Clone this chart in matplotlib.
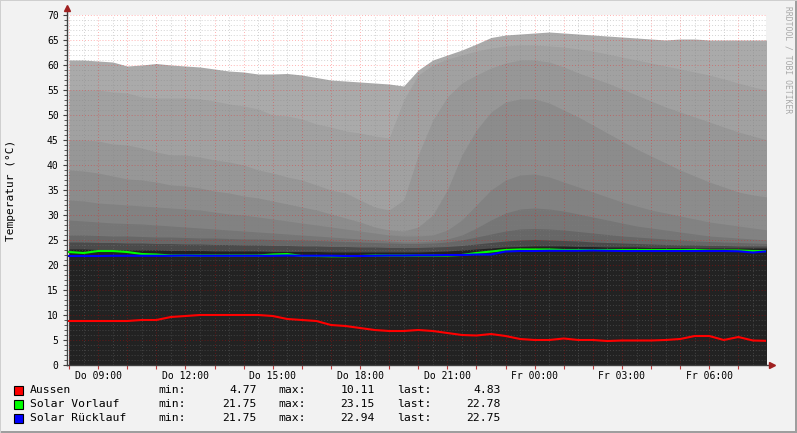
import numpy as np
import matplotlib.pyplot as plt
from matplotlib.patches import Rectangle
from matplotlib.ticker import MultipleLocator, FixedLocator

# Zeitachse: Stunden ab Do 00:00 (halbstündlich), Do ~08:00 bis Fr ~08:00
hours = np.arange(8, 32.01, 0.5)

# Speicherschichten (oben = heißeste Schicht), Werte in °C
t1 = [61.0, 61.0, 60.8, 60.6, 59.8, 60.0, 60.3, 60.0, 59.8,
      59.6, 59.2, 58.8, 58.6, 58.2, 58.2, 58.3, 58.0,
      57.5, 57.0, 56.8, 56.6, 56.4, 56.2, 55.8, 59.0,
      61.0, 62.0, 63.0, 64.2, 65.5, 66.0, 66.2, 66.4,
      66.6, 66.4, 66.2, 66.0, 65.8, 65.6, 65.4, 65.2,
      65.0, 65.2, 65.2, 65.0, 65.0, 65.0, 65.0, 65.0]
t2 = [55.0, 55.0, 55.0, 54.6, 54.4, 53.6, 53.4, 53.4, 53.4,
      53.2, 52.8, 52.2, 51.8, 51.2, 50.0, 49.8, 49.2,
      48.2, 47.6, 46.8, 46.4, 45.8, 45.4, 53.0, 58.0,
      60.0, 61.2, 62.0, 62.8, 63.4, 63.8, 64.0, 64.0,
      63.8, 63.6, 63.2, 62.8, 62.2, 61.6, 61.0, 60.4,
      59.8, 59.2, 58.6, 58.0, 57.2, 56.4, 55.6, 55.0]
t3 = [45.0, 45.0, 44.8, 44.2, 44.0, 43.4, 42.6, 42.0, 42.0,
      41.6, 41.0, 40.6, 40.0, 39.0, 38.4, 37.6, 37.0,
      36.0, 35.0, 34.4, 33.0, 31.6, 31.0, 33.0, 42.0,
      49.0, 53.6, 56.4, 58.0, 59.4, 60.4, 61.0, 61.0,
      60.6, 59.6, 58.4, 57.4, 56.4, 55.2, 54.0, 52.8,
      51.6, 50.6, 49.6, 48.6, 47.6, 46.6, 45.8, 45.0]
t4 = [39.0, 38.8, 38.4, 37.8, 37.2, 37.0, 36.6, 36.0, 35.8,
      35.4, 34.8, 34.4, 33.8, 33.4, 32.8, 32.2, 31.6,
      31.0, 30.2, 29.4, 28.6, 27.6, 27.0, 26.8, 27.6,
      30.0, 35.0, 42.0, 47.0, 50.6, 52.6, 53.2, 53.2,
      52.4, 51.0, 49.6, 48.0, 46.4, 44.8, 43.2, 41.8,
      40.4, 39.0, 37.8, 36.6, 35.6, 34.6, 34.0, 33.6]
t5 = [33.0, 32.8, 32.4, 32.2, 32.0, 31.8, 31.6, 31.4, 31.2,
      31.0, 30.6, 30.2, 30.0, 29.6, 29.2, 28.8, 28.4,
      28.0, 27.6, 27.2, 26.8, 26.4, 26.0, 25.8, 25.8,
      26.0, 27.0, 29.0, 32.0, 35.0, 37.0, 38.0, 38.2,
      37.6, 36.6, 35.6, 34.6, 33.6, 32.6, 31.8, 31.0,
      30.4, 29.8, 29.2, 28.6, 28.2, 27.8, 27.4, 27.0]
t6 = [29.0, 28.8, 28.6, 28.4, 28.3, 28.2, 28.0, 27.8, 27.6,
      27.4, 27.2, 27.0, 26.8, 26.6, 26.4, 26.2, 26.0,
      25.8, 25.6, 25.4, 25.2, 25.0, 24.8, 24.6, 24.6,
      24.8, 25.2, 26.0, 27.4, 29.0, 30.4, 31.2, 31.4,
      31.2, 30.8, 30.2, 29.6, 29.0, 28.4, 27.8, 27.4,
      27.0, 26.6, 26.2, 25.8, 25.6, 25.4, 25.2, 25.0]
t7 = [26.0, 26.0, 25.9, 25.8, 25.8, 25.7, 25.6, 25.6, 25.5,
      25.4, 25.4, 25.3, 25.2, 25.2, 25.1, 25.0, 25.0,
      24.9, 24.8, 24.7, 24.6, 24.5, 24.4, 24.3, 24.3,
      24.4, 24.6, 25.0, 25.6, 26.2, 26.8, 27.2, 27.3,
      27.2, 27.0, 26.7, 26.4, 26.1, 25.8, 25.6, 25.4,
      25.2, 25.0, 24.8, 24.7, 24.6, 24.5, 24.4, 24.3]
t8 = [24.6, 24.6, 24.5, 24.5, 24.4, 24.4, 24.3, 24.3, 24.2,
      24.2, 24.1, 24.1, 24.0, 24.0, 23.9, 23.9, 23.8,
      23.8, 23.7, 23.7, 23.6, 23.6, 23.5, 23.5, 23.5,
      23.6, 23.7, 23.9, 24.2, 24.5, 24.8, 25.0, 25.1,
      25.0, 24.9, 24.8, 24.6, 24.5, 24.4, 24.3, 24.2,
      24.1, 24.0, 24.0, 23.9, 23.9, 23.8, 23.8, 23.8]
t9 = [23.2, 23.2, 23.1, 23.1, 23.0, 23.0, 23.0, 22.9, 22.9,
      22.9, 22.8, 22.8, 22.8, 22.8, 22.7, 22.7, 22.7,
      22.7, 22.6, 22.6, 22.6, 22.6, 22.6, 22.6, 22.6,
      22.7, 22.8, 23.0, 23.2, 23.4, 23.6, 23.7, 23.8,
      23.8, 23.8, 23.7, 23.7, 23.6, 23.6, 23.6, 23.5,
      23.5, 23.5, 23.4, 23.4, 23.4, 23.4, 23.4, 23.4]

# Linien
aussen = [8.8, 8.8, 8.8, 8.8, 8.8, 9.0, 9.0, 9.6, 9.8,
          10.0, 10.0, 10.0, 10.0, 10.0, 9.8, 9.2, 9.0,
          8.8, 8.0, 7.8, 7.4, 7.0, 6.8, 6.8, 7.0,
          6.8, 6.4, 6.0, 5.9, 6.2, 5.8, 5.2, 5.0,
          5.0, 5.3, 5.0, 5.0, 4.8, 4.9, 4.9, 4.9,
          5.0, 5.2, 5.8, 5.8, 5.0, 5.6, 4.9, 4.83]
vorlauf = [22.6, 22.4, 22.8, 22.8, 22.6, 22.2, 22.1, 21.9, 21.9,
           21.9, 21.9, 21.9, 21.9, 21.9, 22.1, 22.2, 21.8,
           21.8, 21.75, 21.75, 21.8, 21.9, 21.9, 21.9, 21.9,
           21.9, 21.9, 22.0, 22.4, 22.7, 23.0, 23.1, 23.1,
           23.1, 23.0, 23.0, 23.0, 23.0, 23.0, 23.0, 23.0,
           23.0, 23.0, 23.0, 22.9, 22.9, 22.9, 22.8, 22.78]
ruecklauf = [21.8, 21.8, 21.8, 21.85, 21.85, 21.85, 21.85, 21.85, 21.9,
             21.85, 21.85, 21.85, 21.85, 21.85, 21.85, 21.9, 21.85,
             21.85, 21.85, 21.8, 21.8, 21.85, 21.9, 21.9, 21.95,
             21.95, 22.0, 22.0, 22.1, 22.1, 22.7, 22.8, 22.8,
             22.85, 22.85, 22.85, 22.9, 22.85, 22.8, 22.8, 22.8,
             22.8, 22.8, 22.8, 22.8, 22.8, 22.75, 22.5, 22.75]

layers = [t1, t2, t3, t4, t5, t6, t7, t8, t9]
layer_colors = ['#aaaaaa', '#a1a1a1', '#979797', '#8c8c8c', '#828282',
                '#767676', '#676767', '#4a4a4a', '#222222']

legend_names = ['Aussen', 'Solar Vorlauf', 'Solar Rücklauf']
legend_colors = ['#ff0000', '#00ff00', '#0000ff']
min_vals = [4.77, 21.75, 21.75]
max_vals = [10.11, 23.15, 22.94]
last_vals = [4.83, 22.78, 22.75]

tick_pos = [9, 12, 15, 18, 21, 24, 27, 30]
tick_labels = ['Do 09:00', 'Do 12:00', 'Do 15:00', 'Do 18:00',
               'Do 21:00', 'Fr 00:00', 'Fr 03:00', 'Fr 06:00']

mono = 'DejaVu Sans Mono'
W, H = 797, 433

fig = plt.figure(figsize=(W / 100, H / 100), dpi=100, facecolor='#f2f2f2')
ax = fig.add_axes([67 / W, (H - 365) / H, (766 - 67) / W, 350 / H])
ax.set_facecolor('white')

# Flächen von der heißesten zur kältesten Schicht übereinander
for vals, col in zip(layers, layer_colors):
    ax.fill_between(hours, 0, vals, color=col, lw=0, zorder=1)

ax.plot(hours, aussen, color=legend_colors[0], lw=1.5, zorder=3)
ax.plot(hours, vorlauf, color=legend_colors[1], lw=1.5, zorder=3)
ax.plot(hours, ruecklauf, color=legend_colors[2], lw=1.5, zorder=3)

ax.set_xlim(7.93, 31.95)
ax.set_ylim(0, 70)

# Raster: Stunden (rot), halbe Stunden (grau), Grad-Schritte
ax.xaxis.set_major_locator(FixedLocator(np.arange(8, 32)))
ax.xaxis.set_minor_locator(MultipleLocator(0.5))
ax.yaxis.set_major_locator(MultipleLocator(5))
ax.yaxis.set_minor_locator(MultipleLocator(1))
ax.set_axisbelow('line')
ax.grid(which='minor', color='#808080', alpha=0.35, lw=0.7, linestyle=(0, (1, 2)))
ax.grid(which='major', color='#ff0000', alpha=0.3, lw=0.7, linestyle=(0, (1, 2)))

ax.set_xticklabels(['' if h not in tick_pos else tick_labels[tick_pos.index(h)]
                    for h in range(8, 32)])
ax.tick_params(axis='x', which='major', length=3, color='#c04040', pad=1, labelsize=7)
ax.tick_params(axis='x', which='minor', length=0)
ax.tick_params(axis='y', which='major', length=3, color='#404040', pad=3, labelsize=7)
ax.tick_params(axis='y', which='minor', length=2, color='#404040')
for lab in ax.get_xticklabels() + ax.get_yticklabels():
    lab.set_family(mono)

for s in ax.spines.values():
    s.set_visible(False)

# Achsen mit Pfeilen
ax.plot([0, 0], [0, 1.015], transform=ax.transAxes, color='#404040', lw=1,
        clip_on=False, zorder=4)
ax.plot([0, 1.007], [0, 0], transform=ax.transAxes, color='#404040', lw=1,
        clip_on=False, zorder=4)
ax.plot([0], [1.02], transform=ax.transAxes, marker='^', ms=4, color='#a02020',
        clip_on=False, zorder=5)
ax.plot([1.008], [0], transform=ax.transAxes, marker='>', ms=4, color='#a02020',
        clip_on=False, zorder=5)

fig.text(11 / W, 1 - 190 / H, 'Temperatur (°C)', rotation=90, ha='center',
         va='center', family=mono, fontsize=8)
fig.text(788 / W, 1 - 60 / H, 'RRDTOOL / TOBI OETIKER', rotation=270, ha='center',
         va='center', family=mono, fontsize=5.8, color='#a8a8a8')

# Legende
for i in range(3):
    y = 390 + 14 * i
    fig.add_artist(Rectangle((14 / W, 1 - (y + 4.5) / H), 9 / W, 9 / H,
                             transform=fig.transFigure, facecolor=legend_colors[i],
                             edgecolor='black', lw=0.8))
    fig.text(30 / W, 1 - y / H, legend_names[i], va='center', family=mono, fontsize=8.2)
    fig.text(158 / W, 1 - y / H, 'min:', va='center', family=mono, fontsize=8.2)
    fig.text(257 / W, 1 - y / H, '%.2f' % min_vals[i], va='center', ha='right',
             family=mono, fontsize=8.2)
    fig.text(278 / W, 1 - y / H, 'max:', va='center', family=mono, fontsize=8.2)
    fig.text(375 / W, 1 - y / H, '%.2f' % max_vals[i], va='center', ha='right',
             family=mono, fontsize=8.2)
    fig.text(397 / W, 1 - y / H, 'last:', va='center', family=mono, fontsize=8.2)
    fig.text(501 / W, 1 - y / H, '%.2f' % last_vals[i], va='center', ha='right',
             family=mono, fontsize=8.2)

# Rahmen
fig.add_artist(Rectangle((0, 0), 1, 2 / H, transform=fig.transFigure,
                         facecolor='#9e9e9e', lw=0))
fig.add_artist(Rectangle((1 - 2 / W, 0), 2 / W, 1, transform=fig.transFigure,
                         facecolor='#9e9e9e', lw=0))
fig.add_artist(Rectangle((0, 1 - 1 / H), 1, 1 / H, transform=fig.transFigure,
                         facecolor='#cfcfcf', lw=0))
fig.add_artist(Rectangle((0, 0), 1 / W, 1, transform=fig.transFigure,
                         facecolor='#cfcfcf', lw=0))

fig.savefig('out.png', dpi=100, facecolor=fig.get_facecolor())
